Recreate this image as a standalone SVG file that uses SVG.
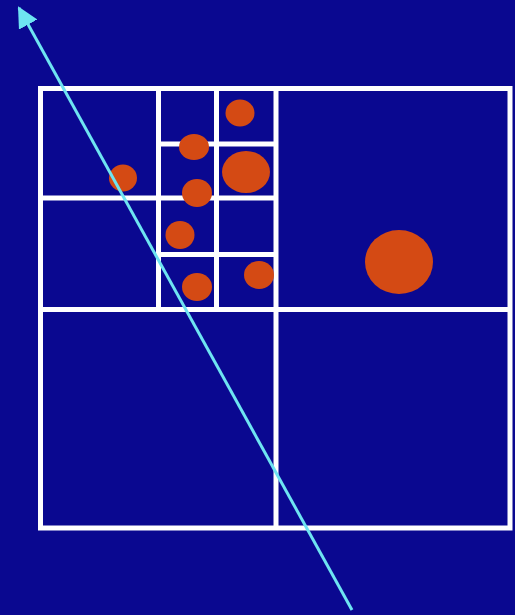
<svg xmlns="http://www.w3.org/2000/svg" width="515" height="615" viewBox="0 0 515 615">
<style>
.g{fill:none;stroke:#ffffff;stroke-width:5}
.b{fill:#D44A14}
.r{stroke:#6EE4F2;stroke-width:3;fill:none}
</style>
<defs>
<marker id="ah" viewBox="0 0 10 10" refX="9" refY="5" markerWidth="7" markerHeight="7" markerUnits="strokeWidth" orient="auto">
<path d="M0,0 L10,5 L0,10 Z" fill="#6EE4F2"/>
</marker>
</defs>
<rect width="515" height="615" fill="#0A0890"/>
<g id="grid">
<rect class="g" x="40.5" y="88.5" width="469.5" height="439.5"/>
<line class="g" x1="276" y1="88.5" x2="276" y2="528"/>
<line class="g" x1="40.5" y1="309.5" x2="510" y2="309.5"/>
<line class="g" x1="158.5" y1="88.5" x2="158.5" y2="309.5"/>
<line class="g" x1="40.5" y1="198" x2="276" y2="198"/>
<line class="g" x1="216.5" y1="88.5" x2="216.5" y2="309.5"/>
<line class="g" x1="158.5" y1="144" x2="276" y2="144"/>
<line class="g" x1="158.5" y1="254.5" x2="276" y2="254.5"/>
</g>
<g id="objects">
<ellipse class="b" cx="240" cy="113" rx="14.5" ry="13.5"/>
<ellipse class="b" cx="194" cy="147" rx="15" ry="13"/>
<ellipse class="b" cx="246" cy="172" rx="24" ry="21"/>
<ellipse class="b" cx="123" cy="178" rx="14" ry="13.5"/>
<ellipse class="b" cx="197" cy="193" rx="15" ry="14"/>
<ellipse class="b" cx="180" cy="235" rx="14.5" ry="14"/>
<ellipse class="b" cx="197" cy="287" rx="15" ry="14"/>
<ellipse class="b" cx="259" cy="275" rx="15" ry="14"/>
<ellipse class="b" cx="399" cy="262" rx="34" ry="32"/>
</g>
<g id="connectors">
<line class="r" x1="352" y1="610" x2="19" y2="8" marker-end="url(#ah)"/>
</g>
</svg>
